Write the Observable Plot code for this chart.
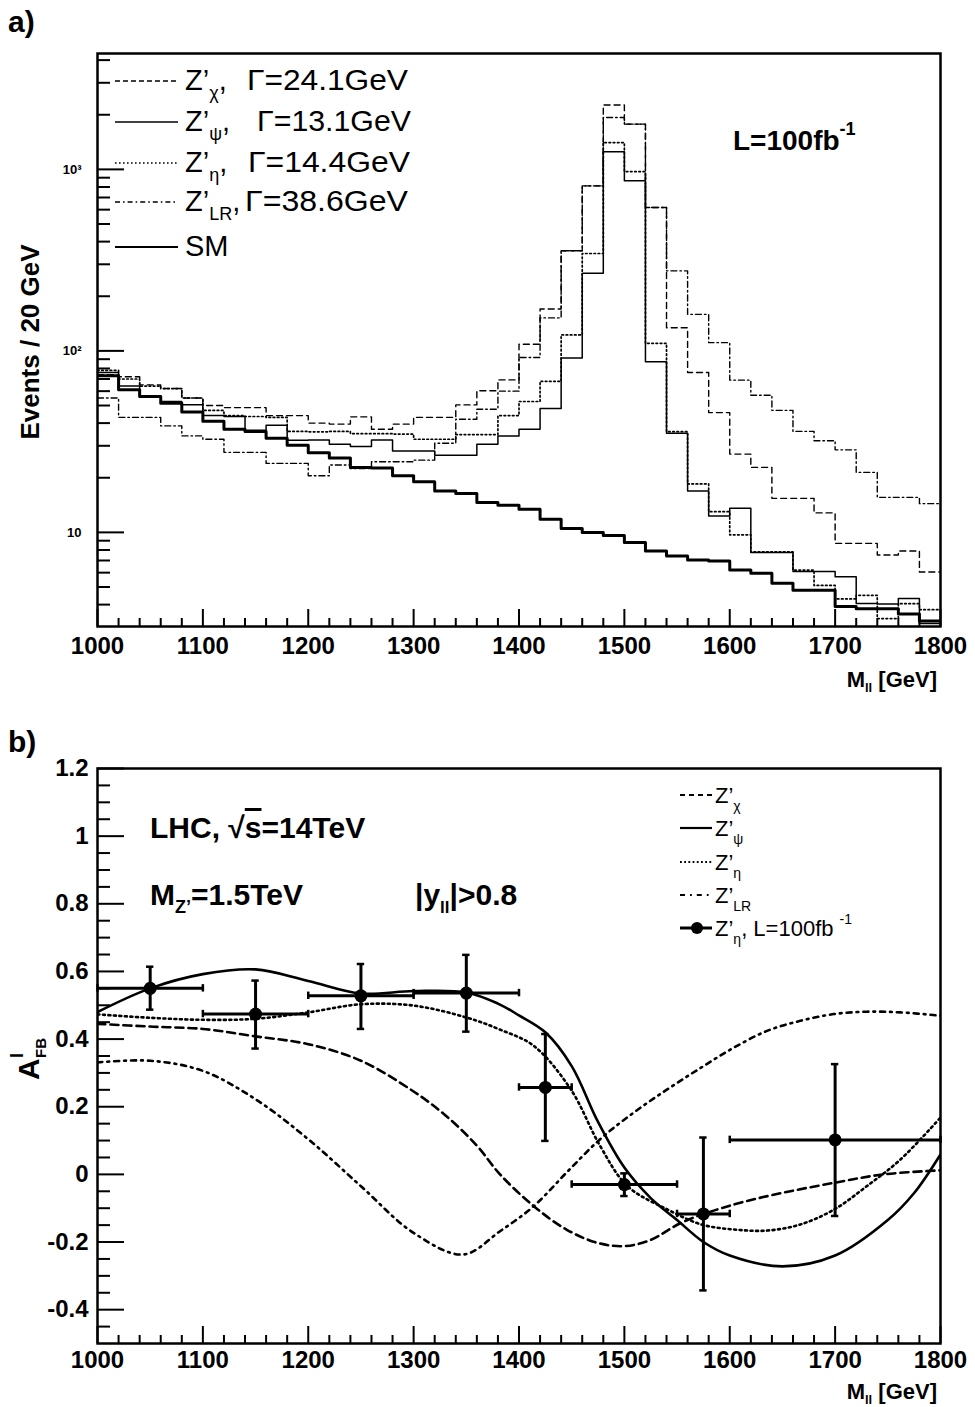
<!DOCTYPE html>
<html><head><meta charset="utf-8">
<script src="https://cdn.jsdelivr.net/npm/d3@7"></script>
<script src="https://cdn.jsdelivr.net/npm/@observablehq/plot@0.6"></script>
<style>
body{margin:0;background:#fff;}
#wrap{position:relative;width:975px;height:1407px;background:#fff;overflow:hidden;}
#wrap svg.panel{position:absolute;left:0;}
#overlay{position:absolute;left:0;top:0;pointer-events:none;}
</style></head><body><div id="wrap"></div>
<script>
const FONT = "'Liberation Sans', Arial, Helvetica, sans-serif";

// ---------- panel a data: events per 20 GeV bin, 1000-1800 GeV ----------
const binLow = d3.range(1000, 1800, 20);
const binWidth = 20;
const chiEvents = [74,72,65,62,55,50,48.7,48.7,44,44,40,39.5,43.3,37,39.5,43,43,50.4,60.3,69.2,108.8,170,356,811,2265,1775,617,134,76,45.7,27,22.8,15.4,15.4,12.8,8.7,8.7,7.5,7.9,6.05];
const psiEvents = [76,64,56.5,52.6,50.5,44,43.5,36.5,38.9,32.2,32.3,30.6,29.7,32.3,28.1,28.1,26.6,26.6,30.6,34.0,37.0,48.1,91.5,268,1250,865,87,35.2,16.9,12.3,13.6,7.74,7.74,6.08,6.08,5.69,4.06,4.03,4.32,3.15];
const etaEvents = [78,70,64,62,55,47,44,43.5,43,36,35.8,36,35,35,34.8,32.6,32.6,34.6,34.6,44,52.6,68,122.5,344,1405,973,110,35.9,18.5,13,9.7,7.8,7.8,6.2,5.1,4.3,4.5,3.35,4.05,3.75];
const lrEvents  = [55,43,43,38.6,34,32.6,27.6,27.6,24,24,20.5,23.5,22.5,24.5,24.5,25,31,42,47.7,60,92,152,356,811,1930,1775,617,276,159,111,69,57,47,36,32,28.5,21.4,15.6,15.6,14.4];
const smEvents  = [73,61,56,51.5,46,41,37,36,33,30.2,27.5,25.7,22.8,22.6,20.5,19.0,16.9,16.4,14.6,14.1,13.4,11.8,10.5,10.0,9.6,8.8,7.9,7.4,7.05,6.95,6.2,5.95,5.25,4.8,4.8,3.9,3.8,3.8,3.55,3.25];

const xTicksA = [1000,1100,1200,1300,1400,1500,1600,1700,1800];
const logMajor = [10,100,1000];
const logMinor = [4,5,6,7,8,9,20,30,40,50,60,70,80,90,200,300,400,500,600,700,800,900,2000,3000,4000];
const logLabels = [{v:1000,t:"10³"},{v:100,t:"10²"},{v:10,t:"10"}];

// ---------- panel b data: A_FB curves ----------
const chiCurveX = [1000,1050,1100,1150,1200,1250,1300,1330,1360,1382,1414,1445,1475,1500,1524,1556,1604,1651,1699,1746,1800];
const chiCurveY = [0.445,0.437,0.43,0.408,0.385,0.336,0.245,0.175,0.085,0.0,-0.094,-0.163,-0.203,-0.212,-0.195,-0.14,-0.089,-0.054,-0.025,0,0.012];
const psiCurveX = [1000,1050,1100,1150,1200,1250,1300,1350,1380,1400,1425,1450,1475,1500,1525,1550,1575,1600,1650,1700,1750,1775,1800];
const psiCurveY = [0.48,0.55,0.592,0.606,0.572,0.535,0.542,0.538,0.505,0.47,0.42,0.32,0.155,0.02,-0.07,-0.135,-0.2,-0.24,-0.272,-0.24,-0.135,-0.055,0.059];
const etaCurveX = [1000,1050,1100,1150,1200,1250,1300,1350,1382,1414,1449,1477,1503,1541,1573,1604,1636,1667,1699,1730,1762,1800];
const etaCurveY = [0.473,0.463,0.457,0.46,0.479,0.503,0.499,0.464,0.428,0.38,0.252,0.084,-0.035,-0.104,-0.148,-0.163,-0.166,-0.148,-0.104,-0.035,0.044,0.168];
const lrCurveX = [1000,1050,1100,1150,1200,1250,1300,1347,1382,1414,1445,1477,1509,1541,1573,1604,1636,1667,1699,1730,1762,1800];
const lrCurveY = [0.331,0.336,0.306,0.222,0.104,-0.035,-0.173,-0.237,-0.168,-0.094,0.005,0.104,0.183,0.252,0.316,0.375,0.425,0.454,0.474,0.481,0.479,0.469];

// pseudo-data Z'_eta, L=100 fb^-1
const ptX   = [1050,1150,1250,1350,1425,1500,1575,1700];
const ptY   = [0.55,0.474,0.528,0.536,0.257,-0.03,-0.117,0.102];
const ptXlo = [1000,1100,1200,1300,1400,1450,1550,1600];
const ptXhi = [1100,1200,1300,1400,1450,1550,1600,1800];
const ptYlo = [0.487,0.372,0.43,0.422,0.099,-0.064,-0.343,-0.123];
const ptYhi = [0.614,0.573,0.622,0.649,0.415,0.003,0.109,0.326];

const xTicksB = [1000,1100,1200,1300,1400,1500,1600,1700,1800];
const yTicksB = [-0.4,-0.2,0,0.2,0.4,0.6,0.8,1,1.2];

// ---------- helpers ----------
function histRows(vals){
  const rows = vals.map((v,i)=>({x: binLow[i], y: v}));
  rows.push({x: binLow[binLow.length-1] + binWidth, y: vals[vals.length-1]});
  return rows;
}
function curveRows(xs, ys){ return xs.map((x,i)=>({x, y: ys[i]})); }
function dashOpt(d){ return d ? {strokeDasharray: d} : {}; }

const W = 975;
const wrap = document.getElementById("wrap");

// ---------- panel a ----------
const A = {top:53, right:35, bottom:74, left:97, height:700};
const innerWA = W - A.left - A.right;
const innerHA = A.height - A.top - A.bottom;
const xMinorA = d3.range(1000, 1801, 20).filter(v => v % 100 !== 0);

const histStyles = [
  {vals: chiEvents, dash: "6,4", w: 1.4},
  {vals: etaEvents, dash: "1.6,2.6", w: 1.7},
  {vals: lrEvents, dash: "6,3,1.6,3", w: 1.4},
  {vals: psiEvents, dash: null, w: 1.5},
  {vals: smEvents, dash: null, w: 3}
];

const plotA = Plot.plot({
  width: W, height: A.height,
  marginTop: A.top, marginRight: A.right, marginBottom: A.bottom, marginLeft: A.left,
  style: {fontFamily: FONT, fontSize: "24px", fontWeight: "bold", background: "white", color: "black", overflow: "visible"},
  x: {domain: [1000, 1800], ticks: xTicksA, tickFormat: d => String(d), tickSize: 0, tickPadding: 10, label: null},
  y: {type: "log", domain: [3.03, 4350], axis: null},
  marks: [
    ...histStyles.map(s => Plot.line(histRows(s.vals), {x: "x", y: "y", curve: "step-after", stroke: "black", strokeWidth: s.w, clip: true, ...dashOpt(s.dash)})),
    Plot.tickY(logMajor, {y: d => d, insetRight: innerWA - 27, strokeWidth: 2}),
    Plot.tickY(logMinor, {y: d => d, insetRight: innerWA - 13, strokeWidth: 2}),
    Plot.tickX(xTicksA, {x: d => d, insetTop: innerHA - 17, strokeWidth: 2}),
    Plot.tickX(xMinorA, {x: d => d, insetTop: innerHA - 8, strokeWidth: 2}),
    Plot.text(logLabels, {y: "v", text: "t", frameAnchor: "left", dx: -16, textAnchor: "end", fontSize: 13}),
    Plot.frame({strokeWidth: 2.5})
  ]
});
plotA.classList.add("panel");
plotA.style.top = "0px";
wrap.appendChild(plotA);

// ---------- panel b ----------
const B = {top:68, right:35, bottom:64, left:97, height:707};
const innerWB = W - B.left - B.right;
const innerHB = B.height - B.top - B.bottom;
const xMinorB = d3.range(1000, 1801, 20).filter(v => v % 100 !== 0);
const yMinorB = d3.range(-0.45, 1.2, 0.05).map(v => Math.round(v*100)/100).filter(v => Math.abs(Math.round(v*100) % 20) !== 0);

const points = ptX.map((x,i)=>({x, y: ptY[i], xlo: ptXlo[i], xhi: ptXhi[i], ylo: ptYlo[i], yhi: ptYhi[i]}));

const curveStyles = [
  {rows: curveRows(chiCurveX, chiCurveY), dash: "8,5"},
  {rows: curveRows(psiCurveX, psiCurveY), dash: null},
  {rows: curveRows(etaCurveX, etaCurveY), dash: "2,3.5"},
  {rows: curveRows(lrCurveX, lrCurveY), dash: "5,5,1.8,5"}
];

const plotB = Plot.plot({
  width: W, height: B.height,
  marginTop: B.top, marginRight: B.right, marginBottom: B.bottom, marginLeft: B.left,
  style: {fontFamily: FONT, fontSize: "24px", fontWeight: "bold", background: "white", color: "black", overflow: "visible"},
  x: {domain: [1000, 1800], ticks: xTicksB, tickFormat: d => String(d), tickSize: 0, tickPadding: 7, label: null},
  y: {domain: [-0.5, 1.2], ticks: yTicksB, tickFormat: d => String(d), tickSize: 0, tickPadding: 9, label: null},
  marks: [
    ...curveStyles.map(s => Plot.line(s.rows, {x: "x", y: "y", curve: "catmull-rom", stroke: "black", strokeWidth: 2.6, clip: true, ...dashOpt(s.dash)})),
    Plot.ruleX(points, {x: "x", y1: "ylo", y2: "yhi", strokeWidth: 3}),
    Plot.ruleY(points, {y: "y", x1: "xlo", x2: "xhi", strokeWidth: 3}),
    Plot.ruleY(points, {y: "ylo", x1: d => d.x - 3.5, x2: d => d.x + 3.5, strokeWidth: 2.5}),
    Plot.ruleY(points, {y: "yhi", x1: d => d.x - 3.5, x2: d => d.x + 3.5, strokeWidth: 2.5}),
    Plot.ruleX(points, {x: "xlo", y1: d => d.y - 0.011, y2: d => d.y + 0.011, strokeWidth: 2.5}),
    Plot.ruleX(points, {x: "xhi", y1: d => d.y - 0.011, y2: d => d.y + 0.011, strokeWidth: 2.5}),
    Plot.dot(points, {x: "x", y: "y", r: 6.5, fill: "black", stroke: "none"}),
    Plot.tickY(yTicksB, {y: d => d, insetRight: innerWB - 27, strokeWidth: 2}),
    Plot.tickY(yMinorB, {y: d => d, insetRight: innerWB - 13, strokeWidth: 2}),
    Plot.tickX(xTicksB, {x: d => d, insetTop: innerHB - 17, strokeWidth: 2}),
    Plot.tickX(xMinorB, {x: d => d, insetTop: innerHB - 8, strokeWidth: 2}),
    Plot.frame({strokeWidth: 2.5})
  ]
});
plotB.classList.add("panel");
plotB.style.top = "700px";
wrap.appendChild(plotB);

// ---------- overlay text & legends ----------
const ov = `
<svg id="overlay" xmlns="http://www.w3.org/2000/svg" width="975" height="1407" font-family="${FONT}" fill="black">
  <text x="8" y="32" font-size="30" font-weight="bold">a)</text>
  <text x="8" y="752" font-size="30" font-weight="bold">b)</text>

  <!-- panel a legend -->
  <g stroke="black" fill="none">
    <line x1="115" x2="178" y1="81" y2="81" stroke-width="1.5" stroke-dasharray="5,3"/>
    <line x1="115" x2="178" y1="122" y2="122" stroke-width="1.6"/>
    <line x1="115" x2="178" y1="163" y2="163" stroke-width="1.7" stroke-dasharray="1.6,2.4"/>
    <line x1="115" x2="178" y1="202" y2="202" stroke-width="1.5" stroke-dasharray="5,3,1.6,3"/>
    <line x1="115" x2="178" y1="247" y2="247" stroke-width="2.2"/>
  </g>
  <g font-size="29">
    <text x="185" y="90">Z’<tspan font-size="18" dy="9">χ</tspan><tspan dy="-9">,</tspan></text>
    <text x="247" y="90" textLength="161" lengthAdjust="spacingAndGlyphs">Γ=24.1GeV</text>
    <text x="185" y="131">Z’<tspan font-size="18" dy="9">ψ</tspan><tspan dy="-9">,</tspan></text>
    <text x="257" y="131" textLength="154" lengthAdjust="spacingAndGlyphs">Γ=13.1GeV</text>
    <text x="185" y="172">Z’<tspan font-size="18" dy="9">η</tspan><tspan dy="-9">,</tspan></text>
    <text x="248" y="172" textLength="162" lengthAdjust="spacingAndGlyphs">Γ=14.4GeV</text>
    <text x="185" y="211">Z’<tspan font-size="18" dy="9">LR</tspan><tspan dy="-9">,</tspan></text>
    <text x="245" y="211" textLength="163" lengthAdjust="spacingAndGlyphs">Γ=38.6GeV</text>
    <text x="185" y="256">SM</text>
  </g>
  <text x="733" y="150" font-size="28" font-weight="bold">L=100fb<tspan font-size="18" dy="-15">-1</tspan></text>

  <text transform="translate(39,342) rotate(-90)" text-anchor="middle" font-size="26" font-weight="bold">Events / 20 GeV</text>
  <text x="937" y="687" text-anchor="end" font-size="22" font-weight="bold">M<tspan font-size="13" dy="5">ll</tspan><tspan dy="-5"> [GeV]</tspan></text>

  <!-- panel b annotations -->
  <text x="150" y="838" font-size="30" font-weight="bold">LHC, √<tspan text-decoration="overline">s</tspan>=14TeV</text>
  <text x="150" y="905" font-size="30" font-weight="bold">M<tspan font-size="18" dy="8">Z’</tspan><tspan dy="-8">=1.5TeV</tspan></text>
  <text x="415" y="905" font-size="30" font-weight="bold">|y<tspan font-size="17" dy="8">ll</tspan><tspan dy="-8">|&gt;0.8</tspan></text>

  <!-- panel b legend -->
  <g stroke="black" fill="none" stroke-width="2.2">
    <line x1="680" x2="712" y1="795" y2="795" stroke-dasharray="5,4"/>
    <line x1="680" x2="712" y1="828" y2="828"/>
    <line x1="680" x2="712" y1="862" y2="862" stroke-dasharray="1.8,2.4"/>
    <line x1="680" x2="712" y1="895" y2="895" stroke-dasharray="5,5,1.8,5"/>
    <line x1="680" x2="712" y1="928" y2="928" stroke-width="3"/>
  </g>
  <circle cx="697" cy="928" r="6" fill="black"/>
  <g font-size="22">
    <text x="715" y="803">Z’<tspan font-size="14" dy="8">χ</tspan></text>
    <text x="715" y="836">Z’<tspan font-size="14" dy="8">ψ</tspan></text>
    <text x="715" y="870">Z’<tspan font-size="14" dy="8">η</tspan></text>
    <text x="715" y="903">Z’<tspan font-size="14" dy="8">LR</tspan></text>
    <text x="715" y="936">Z’<tspan font-size="14" dy="8">η</tspan><tspan dy="-8">, L=100fb </tspan><tspan font-size="14" dy="-12">-1</tspan></text>
  </g>

  <g transform="translate(39,1080) rotate(-90)" font-weight="bold">
    <text x="0" y="0" font-size="30">A</text>
    <text x="22" y="-16" font-size="18">l</text>
    <text x="22" y="7" font-size="15">FB</text>
  </g>
  <text x="937" y="1399" text-anchor="end" font-size="22" font-weight="bold">M<tspan font-size="13" dy="5">ll</tspan><tspan dy="-5"> [GeV]</tspan></text>
</svg>`;
wrap.insertAdjacentHTML("beforeend", ov);
</script></body></html>
